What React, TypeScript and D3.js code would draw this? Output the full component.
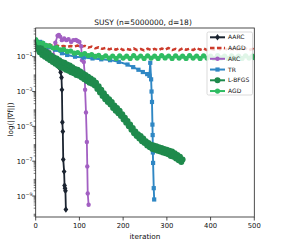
import React from "react";
import * as d3 from "d3";

const W = 283, H = 245;
const LEFT = 35.7, RIGHT = 254.3, TOP = 28, BOTTOM = 217;
const FONT = "DejaVu Sans, sans-serif";

const xTicks = [0, 100, 200, 300, 400, 500];
const yMajorExps = [-1, -3, -5, -7, -9];
const title = "SUSY (n=5000000, d=18)";
const xLabel = "iteration";
const yLabel = "log(||∇f||)";

// [iteration, log10(||grad f||)]
const AARC: [number, number][] = [
  [0, -0.1], [5, -0.3], [10, -0.45], [15, -0.55], [20, -0.7], [25, -0.8], [30, -0.95], [35, -1.05],
  [40, -1.2], [45, -1.35], [50, -1.5], [53, -1.6], [57, -1.9], [59, -2.2], [60, -2.9], [61, -4.76],
  [62, -5.3], [63, -6.9], [65, -7.6], [66, -8.4], [67, -8.55], [68, -8.7], [69, -9.77],
];

const AAGD: [number, number][] = [
  [0, -0.05], [8, -0.2], [16, -0.3], [24, -0.35], [32, -0.3], [40, -0.4], [48, -0.35], [56, -0.42],
  [64, -0.38], [72, -0.45], [80, -0.38], [88, -0.42], [96, -0.36], [104, -0.44], [112, -0.38], [120, -0.48],
  [128, -0.42], [136, -0.52], [144, -0.46], [152, -0.55], [160, -0.5], [168, -0.58], [176, -0.52], [184, -0.6],
  [192, -0.5], [200, -0.62], [208, -0.55], [216, -0.6], [224, -0.52], [232, -0.62], [240, -0.56], [248, -0.64],
  [256, -0.54], [264, -0.62], [272, -0.55], [280, -0.63], [288, -0.53], [296, -0.6], [304, -0.5], [312, -0.62],
  [320, -0.55], [328, -0.63], [336, -0.52], [344, -0.6], [352, -0.54], [360, -0.62], [368, -0.5], [376, -0.6],
  [384, -0.52], [392, -0.62], [400, -0.55], [408, -0.6], [416, -0.5], [424, -0.62], [432, -0.53], [440, -0.6],
  [448, -0.54], [456, -0.63], [464, -0.55], [472, -0.6], [480, -0.52], [488, -0.62], [496, -0.55], [500, -0.58],
];

const ARC: [number, number][] = [
  [0, -0.05], [10, -0.25], [20, -0.45], [30, -0.7], [36, -1.05], [40, -0.9], [45, -0.2], [50, 0.2],
  [53, 0.25], [56, 0.15], [60, -0.05], [65, 0.05], [70, -0.05], [75, -0.0], [81, -0.15], [86, -0.05],
  [92, -0.04], [96, -0.1], [100, -0.15], [104, -0.4], [106, -1.2], [110, -1.3], [112, -2.0], [113, -2.9],
  [115, -4.2], [117, -5.9], [118, -7.3], [119, -8.85], [121, -9.5],
];

const TR: [number, number][] = [
  [0, -0.05], [10, -0.15], [17, -0.25], [30, -0.45], [45, -0.6], [60, -0.8], [72, -0.9], [90, -1.0],
  [110, -1.05], [130, -1.1], [150, -1.15], [170, -1.2], [190, -1.3], [210, -1.45], [223, -1.6], [235, -1.75],
  [245, -1.88], [255, -2.0], [260, -2.1], [262, -1.35], [264, -2.3], [265, -3.0], [266, -3.6], [267, -4.9],
  [267.5, -5.5], [268, -6.5], [268.5, -7.1], [270, -8.55], [271, -9.2],
];

const LBFGS: [number, number][] = [
  [0, -0.1], [3, -0.55], [6, -0.3], [9, -0.75], [12, -0.45], [15, -0.9], [18, -0.6], [21, -1.0],
  [24, -0.7], [27, -1.1], [30, -0.8], [33, -1.2], [36, -0.95], [39, -1.3], [42, -1.05], [45, -1.4],
  [48, -1.1], [51, -1.5], [54, -1.2], [57, -1.6], [60, -1.3], [63, -1.65], [66, -1.35], [69, -1.75],
  [72, -1.45], [75, -1.8], [78, -1.5], [81, -1.9], [84, -1.6], [87, -1.95], [90, -1.7], [93, -2.05],
  [96, -1.75], [99, -2.1], [102, -1.85], [105, -2.2], [108, -1.95], [111, -2.3], [114, -2.05], [117, -2.4],
  [120, -2.15], [123, -2.5], [126, -2.25], [129, -2.55], [132, -2.35], [135, -2.65], [138, -2.5], [141, -2.85],
  [144, -2.7], [147, -3.05], [150, -2.9], [153, -3.25], [156, -3.1], [159, -3.45], [162, -3.3], [165, -3.6],
  [168, -3.45], [171, -3.75], [174, -3.6], [177, -3.95], [180, -3.8], [183, -4.1], [186, -3.95], [189, -4.25],
  [192, -4.1], [195, -4.4], [198, -4.3], [201, -4.6], [204, -4.5], [207, -4.8], [210, -4.7], [213, -5.0],
  [216, -4.9], [219, -5.2], [222, -5.1], [225, -5.4], [228, -5.3], [231, -5.55], [234, -5.45], [237, -5.7],
  [240, -5.55], [243, -5.85], [246, -5.7], [249, -5.95], [252, -5.85], [255, -6.1], [258, -5.95], [261, -6.2],
  [264, -6.05], [267, -6.3], [270, -6.1], [273, -6.35], [276, -6.15], [279, -6.4], [282, -6.2], [285, -6.45],
  [288, -6.25], [291, -6.5], [294, -6.3], [297, -6.55], [300, -6.35], [303, -6.6], [306, -6.4], [309, -6.7],
  [312, -6.45], [315, -6.75], [318, -6.55], [321, -6.85], [324, -6.65], [327, -6.95], [330, -6.75], [333, -7.05],
  [336, -6.9],
];

const AGD: [number, number][] = [
  [0, -0.02], [8, -0.2], [16, -0.22], [24, -0.35], [32, -0.38], [40, -0.5], [48, -0.48], [56, -0.6],
  [64, -0.58], [72, -0.7], [80, -0.68], [88, -0.8], [96, -0.76], [104, -0.88], [112, -0.82], [120, -0.93],
  [128, -0.88], [136, -0.98], [144, -0.92], [152, -1.05], [160, -0.95], [168, -1.08], [176, -0.96], [184, -1.1],
  [192, -0.95], [200, -1.08], [208, -0.97], [216, -1.1], [224, -0.94], [232, -1.08], [240, -0.96], [248, -1.1],
  [256, -0.95], [264, -1.08], [272, -0.97], [280, -1.1], [288, -0.94], [296, -1.07], [304, -0.96], [312, -1.1],
  [320, -0.95], [328, -1.08], [336, -0.97], [344, -1.1], [352, -0.94], [360, -1.08], [368, -0.96], [376, -1.1],
  [384, -0.95], [392, -1.08], [400, -0.97], [408, -1.1], [416, -0.94], [424, -1.07], [432, -0.96], [440, -1.1],
  [448, -0.95], [456, -1.08], [464, -0.97], [472, -1.1], [480, -0.95], [488, -1.08], [496, -0.97], [500, -1.05],
];

type Marker = "diamond" | "circle" | "square" | "none";
interface S { name: string; data: [number, number][]; color: string; width: number; marker: Marker; size: number; dash?: string }

const SERIES: S[] = [
  { name: "AARC", data: AARC, color: "#1b2430", width: 1.8, marker: "diamond", size: 2.8 },
  { name: "AAGD", data: AAGD, color: "#cc3b2b", width: 2.5, marker: "none", size: 0, dash: "4.5,2.5" },
  { name: "ARC", data: ARC, color: "#a25fc2", width: 1.8, marker: "circle", size: 2.2 },
  { name: "TR", data: TR, color: "#2f87c4", width: 1.9, marker: "square", size: 2.1 },
  { name: "L-BFGS", data: LBFGS, color: "#1f8a4c", width: 2, marker: "circle", size: 3 },
  { name: "AGD", data: AGD, color: "#2fbc62", width: 2, marker: "circle", size: 2.6 },
];

const x = d3.scaleLinear().domain([0, 500]).range([LEFT, RIGHT]);
const y = d3.scaleLog().domain([10 ** -10.206, 10 ** 0.648]).range([BOTTOM, TOP]);

function MarkerShape({ m, cx, cy, r, color }: { m: Marker; cx: number; cy: number; r: number; color: string }) {
  if (m === "circle") return <circle cx={cx} cy={cy} r={r} fill={color} />;
  if (m === "square") return <rect x={cx - r} y={cy - r} width={2 * r} height={2 * r} fill={color} />;
  if (m === "diamond")
    return <path d={`M${cx},${cy - r * 1.15}L${cx + r * 0.85},${cy}L${cx},${cy + r * 1.15}L${cx - r * 0.85},${cy}Z`} fill={color} />;
  return null;
}

export default function App() {
  const line = d3.line<[number, number]>().x((d) => x(d[0])).y((d) => y(10 ** d[1]));

  const minorTicks: number[] = [];
  for (let k = -11; k <= 1; k++) {
    for (let m = 2; m <= 9; m++) {
      const v = m * 10 ** k;
      const py = y(v);
      if (py >= TOP && py <= BOTTOM) minorTicks.push(py);
    }
  }

  const legX = 207, legY = 32, legW = 45.5, legH = 63, step = 10.75;

  return (
    <svg width={W} height={H} style={{ position: "absolute", left: 0, top: 0, background: "#fff" }} fontFamily={FONT}>
      <defs>
        <clipPath id="plotclip">
          <rect x={LEFT} y={TOP} width={RIGHT - LEFT} height={BOTTOM - TOP} />
        </clipPath>
      </defs>
      <rect width={W} height={H} fill="#fff" />
      <text x={143} y={24.5} textAnchor="middle" fontSize={7.5} fill="#111">{title}</text>

      <g clipPath="url(#plotclip)">
        {SERIES.map((s) => (
          <g key={s.name}>
            <path d={line(s.data) || ""} fill="none" stroke={s.color} strokeWidth={s.width} strokeDasharray={s.dash} strokeLinejoin="round" />
            {s.data.map((d, i) => (
              <MarkerShape key={i} m={s.marker} cx={x(d[0])} cy={y(10 ** d[1])} r={s.size} color={s.color} />
            ))}
          </g>
        ))}
      </g>

      {/* frame */}
      <rect x={LEFT} y={TOP} width={RIGHT - LEFT} height={BOTTOM - TOP} fill="none" stroke="#222" strokeWidth={0.8} />

      {/* x axis */}
      {xTicks.map((t) => (
        <g key={t}>
          <line x1={x(t)} x2={x(t)} y1={BOTTOM} y2={BOTTOM + 3.5} stroke="#222" strokeWidth={0.8} />
          <text x={x(t)} y={228} textAnchor="middle" fontSize={6.8} fill="#111">{t}</text>
        </g>
      ))}
      <text x={(LEFT + RIGHT) / 2} y={238.5} textAnchor="middle" fontSize={7.3} fill="#111">{xLabel}</text>

      {/* y axis */}
      {minorTicks.map((py, i) => (
        <line key={i} x1={LEFT} x2={LEFT - 2} y1={py} y2={py} stroke="#222" strokeWidth={0.6} />
      ))}
      {yMajorExps.map((e) => {
        const py = y(10 ** e);
        return (
          <g key={e}>
            <line x1={LEFT} x2={LEFT - 3.5} y1={py} y2={py} stroke="#222" strokeWidth={0.8} />
            <text x={32.5} y={py + 2.5} textAnchor="end" fontSize={6.8} fill="#111">
              <tspan>10</tspan>
              <tspan dy={-3} fontSize={4.8}>{"\u2212" + Math.abs(e)}</tspan>
            </text>
          </g>
        );
      })}
      <text transform={`translate(12.5,${(TOP + BOTTOM) / 2 - 3}) rotate(-90)`} textAnchor="middle" fontSize={7.3} fill="#111">{yLabel}</text>

      {/* legend */}
      <rect x={legX} y={legY} width={legW} height={legH} rx={1.5} fill="#fff" fillOpacity={0.85} stroke="#cccccc" strokeWidth={0.7} />
      {SERIES.map((s, i) => {
        const cy = legY + 5.3 + i * step;
        return (
          <g key={s.name}>
            <line x1={210} x2={225} y1={cy} y2={cy} stroke={s.color} strokeWidth={s.name === "AAGD" ? 2.4 : 2} strokeDasharray={s.dash} />
            <MarkerShape m={s.marker} cx={217.5} cy={cy} r={s.size} color={s.color} />
            <text x={228} y={cy + 2.1} fontSize={6} fill="#111">{s.name}</text>
          </g>
        );
      })}
    </svg>
  );
}
